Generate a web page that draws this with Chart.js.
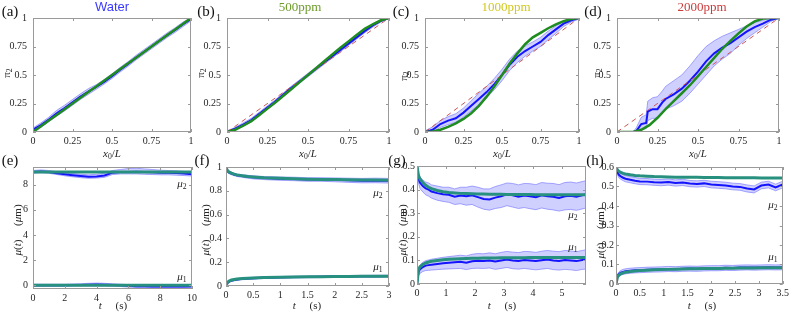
<!DOCTYPE html>
<html>
<head>
<meta charset="utf-8">
<script src="https://cdn.jsdelivr.net/npm/chart.js@4.4.1/dist/chart.umd.min.js"></script>
<style>
  html, body { margin: 0; padding: 0; background: #fff; }
  #wrap { position: relative; width: 789px; height: 315px; overflow: hidden; background: #fff; }
  #wrap canvas { position: absolute; }
  .lbl { position: absolute; transform: translate(-50%, -50%); white-space: pre; font-family: 'Liberation Serif', serif; color: #262626; line-height: 1; }
  .rot { transform: translate(-50%, -50%) rotate(-90deg); }
  .pl { font-size: 15px; color: #111; }
  .ttl { font-size: 13px; }
  .ax { font-size: 11px; }
  .mu { font-size: 11px; }
  sub { font-size: 70%; vertical-align: -0.3em; line-height: 0; }
</style>
</head>
<body>
<div id="wrap">
  <canvas id="pa"></canvas><canvas id="pb"></canvas><canvas id="pc"></canvas><canvas id="pd"></canvas>
  <canvas id="pe"></canvas><canvas id="pf"></canvas><canvas id="pg"></canvas><canvas id="ph"></canvas>

  <!-- panel letters -->
  <div class="lbl pl" style="left:10px;top:11px">(a)</div>
  <div class="lbl pl" style="left:206px;top:11px">(b)</div>
  <div class="lbl pl" style="left:401px;top:11px">(c)</div>
  <div class="lbl pl" style="left:593px;top:11px">(d)</div>
  <div class="lbl pl" style="left:10px;top:160px">(e)</div>
  <div class="lbl pl" style="left:202px;top:160px">(f)</div>
  <div class="lbl pl" style="left:397px;top:160px">(g)</div>
  <div class="lbl pl" style="left:595px;top:160px">(h)</div>

  <!-- column titles -->
  <div class="lbl ttl" style="left:112px;top:6px;color:#3a3aff;font-family:'Liberation Sans',sans-serif">Water</div>
  <div class="lbl ttl" style="left:300px;top:6px;color:#6d9b2a">500ppm</div>
  <div class="lbl ttl" style="left:506px;top:6px;color:#d2c81e">1000ppm</div>
  <div class="lbl ttl" style="left:702px;top:6px;color:#cc3c3c">2000ppm</div>

  <!-- axis titles, top row -->
  <div class="lbl ax" style="left:112px;top:153px"><i>x</i><sub>0</sub>/<i>L</i></div>
  <div class="lbl ax" style="left:308px;top:153px"><i>x</i><sub>0</sub>/<i>L</i></div>
  <div class="lbl ax" style="left:502px;top:153px"><i>x</i><sub>0</sub>/<i>L</i></div>
  <div class="lbl ax" style="left:698px;top:153px"><i>x</i><sub>0</sub>/<i>L</i></div>
  <div class="lbl ax rot" style="left:6px;top:73px">π<sub>2</sub></div>
  <div class="lbl ax rot" style="left:200px;top:73px">π<sub>2</sub></div>
  <div class="lbl ax rot" style="left:403px;top:76px">π<sub>2</sub></div>
  <div class="lbl ax rot" style="left:596px;top:73px">π<sub>2</sub></div>

  <!-- axis titles, bottom row -->
  <div class="lbl ax" style="left:113px;top:305px"><i>t</i>     (s)</div>
  <div class="lbl ax" style="left:307px;top:305px"><i>t</i>     (s)</div>
  <div class="lbl ax" style="left:502px;top:305px"><i>t</i>     (s)</div>
  <div class="lbl ax" style="left:702px;top:305px"><i>t</i>     (s)</div>
  <div class="lbl ax rot" style="left:17px;top:230px"><i>μ</i>(<i>t</i>)     (<i>μ</i>m)</div>
  <div class="lbl ax rot" style="left:205px;top:230px"><i>μ</i>(<i>t</i>)     (<i>μ</i>m)</div>
  <div class="lbl ax rot" style="left:402px;top:230px"><i>μ</i>(<i>t</i>)     (<i>μ</i>m)</div>
  <div class="lbl ax rot" style="left:600px;top:233px"><i>μ</i>(<i>t</i>)     (<i>μ</i>m)</div>

  <!-- curve labels -->
  <div class="lbl mu" style="left:182px;top:183px"><i>μ</i><sub>2</sub></div>
  <div class="lbl mu" style="left:182px;top:276px"><i>μ</i><sub>1</sub></div>
  <div class="lbl mu" style="left:378px;top:192px"><i>μ</i><sub>2</sub></div>
  <div class="lbl mu" style="left:378px;top:266px"><i>μ</i><sub>1</sub></div>
  <div class="lbl mu" style="left:573px;top:214px"><i>μ</i><sub>2</sub></div>
  <div class="lbl mu" style="left:573px;top:246px"><i>μ</i><sub>1</sub></div>
  <div class="lbl mu" style="left:773px;top:204px"><i>μ</i><sub>2</sub></div>
  <div class="lbl mu" style="left:773px;top:256px"><i>μ</i><sub>1</sub></div>
</div>

<script>
// ---- tick labels ----
const unitTicks = [0, 0.25, 0.5, 0.75, 1];
const eTicksX = [0, 2, 4, 6, 8, 10];
const eTicksY = [0, 2, 4, 6, 8];
const fTicksX = [0, 0.5, 1, 1.5, 2, 2.5, 3];
const fTicksY = [0, 0.2, 0.4, 0.6, 0.8, 1];
const gTicksX = [0, 1, 2, 3, 4, 5];
const gTicksY = [0, 0.1, 0.2, 0.3, 0.4, 0.5];
const hTicksX = [0, 0.5, 1, 1.5, 2, 2.5, 3, 3.5];
const hTicksY = [0, 0.1, 0.2, 0.3, 0.4, 0.5, 0.6];

// ---- data: top row (pi_2 vs x0/L) ----
const xGrid = [0, 0.05, 0.1, 0.15, 0.2, 0.25, 0.3, 0.35, 0.4, 0.45, 0.5, 0.55, 0.6, 0.65, 0.7, 0.75, 0.8, 0.85, 0.9, 0.95, 1];
const refX = [0, 1];
const refY = [0, 1];

const aModel = [0, 0.05, 0.1, 0.15, 0.2, 0.25, 0.3, 0.35, 0.4, 0.45, 0.5, 0.55, 0.6, 0.65, 0.7, 0.75, 0.8, 0.85, 0.9, 0.95, 1];
const aBlue = [0.02, 0.06, 0.11, 0.165, 0.21, 0.26, 0.31, 0.355, 0.395, 0.44, 0.49, 0.545, 0.595, 0.65, 0.7, 0.75, 0.8, 0.85, 0.895, 0.945, 0.99];
const aLow = [0, 0.04, 0.09, 0.14, 0.185, 0.235, 0.285, 0.33, 0.375, 0.42, 0.47, 0.525, 0.575, 0.63, 0.68, 0.73, 0.78, 0.83, 0.875, 0.925, 0.975];
const aHigh = [0.035, 0.08, 0.13, 0.19, 0.235, 0.285, 0.335, 0.38, 0.415, 0.46, 0.51, 0.565, 0.615, 0.67, 0.72, 0.77, 0.82, 0.87, 0.915, 0.965, 1];

const bModel = [0, 0.02, 0.055, 0.095, 0.15, 0.205, 0.26, 0.32, 0.38, 0.44, 0.5, 0.56, 0.62, 0.68, 0.74, 0.795, 0.85, 0.905, 0.945, 0.98, 1];
const bBlue = [0, 0.03, 0.065, 0.105, 0.16, 0.215, 0.27, 0.33, 0.39, 0.445, 0.5, 0.555, 0.61, 0.665, 0.72, 0.775, 0.83, 0.885, 0.935, 0.975, 1];
const bLow = [0, 0.02, 0.05, 0.09, 0.145, 0.2, 0.255, 0.315, 0.375, 0.43, 0.485, 0.54, 0.595, 0.65, 0.705, 0.76, 0.815, 0.87, 0.92, 0.965, 0.995];
const bHigh = [0.01, 0.04, 0.08, 0.12, 0.175, 0.23, 0.285, 0.345, 0.405, 0.46, 0.515, 0.57, 0.625, 0.68, 0.735, 0.79, 0.845, 0.9, 0.95, 0.985, 1];

const cModel = [0, 0.005, 0.02, 0.045, 0.075, 0.115, 0.165, 0.23, 0.31, 0.4, 0.5, 0.6, 0.69, 0.77, 0.83, 0.87, 0.91, 0.945, 0.972, 0.992, 1];
const cBlue = [0, 0.02, 0.07, 0.1, 0.12, 0.17, 0.23, 0.29, 0.35, 0.42, 0.5, 0.59, 0.66, 0.71, 0.75, 0.79, 0.85, 0.9, 0.95, 0.98, 1];
const cLow = [0, 0, 0.04, 0.065, 0.085, 0.13, 0.185, 0.24, 0.3, 0.37, 0.45, 0.54, 0.61, 0.665, 0.71, 0.75, 0.81, 0.865, 0.925, 0.965, 0.99];
const cHigh = [0.01, 0.045, 0.1, 0.135, 0.16, 0.21, 0.275, 0.34, 0.4, 0.47, 0.55, 0.64, 0.71, 0.755, 0.79, 0.83, 0.885, 0.93, 0.97, 0.99, 1];

const dModel = [0, 0, 0, 0.02, 0.06, 0.125, 0.2, 0.27, 0.34, 0.41, 0.49, 0.57, 0.65, 0.73, 0.8, 0.865, 0.925, 0.97, 0.995, 1, 1];
const dX = [0, 0.1, 0.12, 0.15, 0.18, 0.19, 0.22, 0.25, 0.28, 0.3, 0.35, 0.4, 0.45, 0.5, 0.55, 0.6, 0.65, 0.7, 0.75, 0.8, 0.85, 0.9, 0.95, 1];
const dBlue = [0, 0, 0.01, 0.07, 0.08, 0.18, 0.2, 0.2, 0.26, 0.29, 0.33, 0.38, 0.45, 0.53, 0.62, 0.69, 0.74, 0.78, 0.83, 0.88, 0.92, 0.95, 0.985, 1];
const dLow = [0, 0, 0, 0.02, 0.03, 0.1, 0.12, 0.12, 0.17, 0.2, 0.23, 0.27, 0.34, 0.42, 0.5, 0.58, 0.64, 0.69, 0.76, 0.82, 0.87, 0.92, 0.97, 1];
const dHigh = [0, 0, 0.04, 0.13, 0.15, 0.27, 0.3, 0.31, 0.36, 0.4, 0.45, 0.5, 0.58, 0.67, 0.75, 0.8, 0.84, 0.87, 0.9, 0.93, 0.96, 0.98, 1, 1];

// ---- data: bottom row (mu vs t) ----
const eT = [0, 0.5, 1, 1.5, 2, 2.5, 3, 3.5, 4, 4.5, 5, 5.5, 6, 6.5, 7, 7.5, 8, 8.5, 9, 9.5, 10];
const eModelT = [0, 10];
const eModel2 = [9, 9];
const eModel1 = [0, 0];
const eMu2 = [9.0, 9.05, 9.0, 8.9, 8.82, 8.75, 8.68, 8.62, 8.65, 8.72, 8.95, 9.0, 9.0, 9.02, 9.0, 8.98, 8.95, 8.95, 8.92, 8.88, 8.82];
const eMu2Hi = [9.12, 9.17, 9.12, 9.03, 8.95, 8.88, 8.82, 8.78, 8.82, 8.9, 9.12, 9.2, 9.28, 9.3, 9.25, 9.2, 9.15, 9.12, 9.1, 9.05, 9.0];
const eMu2Lo = [8.9, 8.95, 8.9, 8.8, 8.7, 8.62, 8.55, 8.5, 8.52, 8.58, 8.8, 8.85, 8.85, 8.85, 8.82, 8.8, 8.78, 8.78, 8.75, 8.72, 8.68];
const eMu1 = [0, 0, 0, 0, 0, 0.01, 0.02, 0.04, 0.05, 0.04, 0.02, 0, -0.05, -0.08, -0.09, -0.1, -0.1, -0.09, -0.1, -0.1, -0.08];
const eMu1Hi = [0.08, 0.08, 0.08, 0.08, 0.08, 0.1, 0.12, 0.15, 0.17, 0.15, 0.12, 0.08, 0.05, 0.02, 0, 0, 0, 0.01, 0, 0, 0.02];
const eMu1Lo = [-0.08, -0.08, -0.08, -0.08, -0.08, -0.07, -0.06, -0.05, -0.05, -0.06, -0.08, -0.1, -0.15, -0.18, -0.2, -0.2, -0.2, -0.19, -0.2, -0.2, -0.18];

const fT = [0, 0.02, 0.05, 0.1, 0.15, 0.2, 0.3, 0.4, 0.5, 0.7, 1, 1.25, 1.5, 1.75, 2, 2.25, 2.5, 2.75, 3];
const fModel2 = [1.0, 0.975, 0.96, 0.948, 0.94, 0.934, 0.926, 0.92, 0.916, 0.91, 0.905, 0.901, 0.898, 0.896, 0.894, 0.892, 0.891, 0.89, 0.889];
const fModel1 = [0, 0.025, 0.04, 0.05, 0.055, 0.058, 0.063, 0.066, 0.068, 0.071, 0.074, 0.076, 0.077, 0.078, 0.079, 0.08, 0.081, 0.082, 0.082];
const fMu2 = [1.0, 0.97, 0.955, 0.945, 0.937, 0.93, 0.924, 0.918, 0.913, 0.907, 0.902, 0.9, 0.895, 0.895, 0.892, 0.888, 0.885, 0.887, 0.884];
const fMu2Hi = [1.0, 0.98, 0.965, 0.955, 0.947, 0.941, 0.935, 0.93, 0.926, 0.92, 0.916, 0.914, 0.91, 0.91, 0.908, 0.906, 0.904, 0.906, 0.904];
const fMu2Lo = [1.0, 0.96, 0.945, 0.935, 0.927, 0.92, 0.913, 0.906, 0.9, 0.894, 0.888, 0.885, 0.88, 0.88, 0.876, 0.871, 0.867, 0.868, 0.865];
const fMu1 = [0, 0.02, 0.035, 0.045, 0.05, 0.054, 0.06, 0.063, 0.066, 0.07, 0.073, 0.075, 0.076, 0.078, 0.079, 0.081, 0.082, 0.082, 0.083];
const fMu1Hi = [0, 0.027, 0.042, 0.052, 0.057, 0.061, 0.067, 0.07, 0.073, 0.077, 0.08, 0.082, 0.083, 0.085, 0.086, 0.088, 0.089, 0.09, 0.091];
const fMu1Lo = [0, 0.013, 0.028, 0.038, 0.043, 0.047, 0.053, 0.056, 0.059, 0.063, 0.066, 0.068, 0.069, 0.071, 0.072, 0.074, 0.075, 0.075, 0.076];

const gT = [0, 0.05, 0.1, 0.2, 0.3, 0.4, 0.5, 0.7, 0.9, 1.1, 1.3, 1.5, 1.7, 1.9, 2.1, 2.3, 2.5, 2.7, 2.9, 3.1, 3.3, 3.5, 3.7, 3.9, 4.1, 4.3, 4.5, 4.7, 4.9, 5.1, 5.3, 5.5, 5.7, 5.83];
const gModel2 = [0.5, 0.46, 0.445, 0.43, 0.418, 0.41, 0.404, 0.396, 0.391, 0.388, 0.386, 0.384, 0.383, 0.382, 0.381, 0.381, 0.38, 0.38, 0.38, 0.379, 0.379, 0.379, 0.379, 0.379, 0.378, 0.378, 0.378, 0.378, 0.378, 0.378, 0.378, 0.378, 0.378, 0.378];
const gModel1 = [0, 0.06, 0.072, 0.083, 0.089, 0.093, 0.096, 0.1, 0.103, 0.105, 0.106, 0.107, 0.108, 0.109, 0.109, 0.11, 0.11, 0.11, 0.111, 0.111, 0.111, 0.111, 0.111, 0.112, 0.112, 0.112, 0.112, 0.112, 0.112, 0.112, 0.112, 0.112, 0.112, 0.112];
const gMu2 = [0.5, 0.45, 0.43, 0.415, 0.405, 0.4, 0.392, 0.385, 0.38, 0.378, 0.37, 0.375, 0.372, 0.376, 0.368, 0.36, 0.358, 0.366, 0.372, 0.38, 0.376, 0.37, 0.375, 0.372, 0.368, 0.376, 0.372, 0.37, 0.365, 0.372, 0.374, 0.37, 0.376, 0.38];
const gMu2Hi = [0.5, 0.47, 0.455, 0.44, 0.432, 0.428, 0.42, 0.415, 0.41, 0.41, 0.403, 0.41, 0.41, 0.415, 0.41, 0.403, 0.403, 0.413, 0.42, 0.428, 0.426, 0.42, 0.426, 0.425, 0.421, 0.43, 0.427, 0.426, 0.421, 0.43, 0.432, 0.428, 0.434, 0.438];
const gMu2Lo = [0.5, 0.43, 0.405, 0.39, 0.378, 0.372, 0.364, 0.355, 0.35, 0.346, 0.337, 0.34, 0.334, 0.337, 0.326, 0.317, 0.313, 0.32, 0.324, 0.332, 0.326, 0.32, 0.324, 0.319, 0.315, 0.322, 0.317, 0.314, 0.309, 0.314, 0.316, 0.312, 0.318, 0.322];
const gMu1 = [0, 0.05, 0.062, 0.072, 0.078, 0.08, 0.082, 0.085, 0.088, 0.09, 0.092, 0.094, 0.09, 0.096, 0.098, 0.097, 0.1, 0.095, 0.1, 0.104, 0.1, 0.098, 0.102, 0.1, 0.097, 0.101, 0.104, 0.1, 0.098, 0.102, 0.1, 0.097, 0.102, 0.104];
const gMu1Hi = [0, 0.065, 0.08, 0.092, 0.099, 0.102, 0.105, 0.109, 0.113, 0.116, 0.119, 0.122, 0.119, 0.126, 0.129, 0.128, 0.132, 0.128, 0.134, 0.138, 0.135, 0.133, 0.138, 0.137, 0.134, 0.139, 0.142, 0.139, 0.137, 0.142, 0.14, 0.137, 0.142, 0.145];
const gMu1Lo = [0, 0.035, 0.045, 0.053, 0.057, 0.058, 0.059, 0.061, 0.063, 0.064, 0.065, 0.066, 0.061, 0.066, 0.067, 0.066, 0.068, 0.062, 0.066, 0.07, 0.065, 0.063, 0.066, 0.063, 0.06, 0.063, 0.066, 0.061, 0.059, 0.062, 0.06, 0.057, 0.062, 0.063];

const hT = [0, 0.03, 0.06, 0.1, 0.15, 0.2, 0.3, 0.4, 0.5, 0.65, 0.8, 0.95, 1.1, 1.25, 1.4, 1.55, 1.7, 1.85, 2, 2.15, 2.3, 2.45, 2.6, 2.75, 2.9, 3.05, 3.2, 3.35, 3.5];
const hModel2 = [0.6, 0.585, 0.578, 0.572, 0.567, 0.564, 0.56, 0.557, 0.555, 0.553, 0.551, 0.55, 0.549, 0.548, 0.548, 0.547, 0.547, 0.546, 0.546, 0.546, 0.545, 0.545, 0.545, 0.545, 0.545, 0.544, 0.544, 0.544, 0.544];
const hModel1 = [0, 0.035, 0.045, 0.052, 0.057, 0.06, 0.064, 0.067, 0.069, 0.071, 0.073, 0.074, 0.075, 0.076, 0.077, 0.078, 0.078, 0.079, 0.08, 0.08, 0.081, 0.081, 0.082, 0.082, 0.082, 0.083, 0.083, 0.083, 0.083];
const hMu2 = [0.6, 0.575, 0.56, 0.552, 0.545, 0.54, 0.535, 0.53, 0.526, 0.525, 0.522, 0.52, 0.523, 0.518, 0.521, 0.515, 0.513, 0.516, 0.51, 0.508, 0.505, 0.5, 0.498, 0.49, 0.485, 0.505, 0.51, 0.495, 0.51];
const hMu2Hi = [0.6, 0.588, 0.574, 0.567, 0.56, 0.556, 0.551, 0.546, 0.542, 0.541, 0.538, 0.536, 0.539, 0.534, 0.537, 0.531, 0.529, 0.532, 0.527, 0.525, 0.522, 0.517, 0.515, 0.508, 0.503, 0.522, 0.527, 0.512, 0.527];
const hMu2Lo = [0.6, 0.56, 0.545, 0.537, 0.53, 0.524, 0.519, 0.514, 0.51, 0.509, 0.506, 0.504, 0.507, 0.502, 0.505, 0.499, 0.497, 0.5, 0.493, 0.491, 0.488, 0.483, 0.481, 0.472, 0.467, 0.488, 0.493, 0.478, 0.493];
const hMu1 = [0, 0.04, 0.05, 0.058, 0.062, 0.065, 0.068, 0.07, 0.071, 0.073, 0.074, 0.075, 0.077, 0.076, 0.078, 0.079, 0.078, 0.08, 0.081, 0.081, 0.083, 0.082, 0.084, 0.085, 0.084, 0.085, 0.086, 0.085, 0.086];
const hMu1Hi = [0, 0.05, 0.062, 0.07, 0.075, 0.078, 0.081, 0.083, 0.084, 0.086, 0.087, 0.088, 0.09, 0.089, 0.091, 0.092, 0.091, 0.093, 0.094, 0.094, 0.096, 0.095, 0.097, 0.098, 0.097, 0.098, 0.099, 0.098, 0.099];
const hMu1Lo = [0, 0.03, 0.038, 0.046, 0.049, 0.052, 0.055, 0.057, 0.058, 0.06, 0.061, 0.062, 0.064, 0.063, 0.065, 0.066, 0.065, 0.067, 0.068, 0.068, 0.07, 0.069, 0.071, 0.072, 0.071, 0.072, 0.073, 0.072, 0.073];

// ---- styles ----
const BLUE = '#1414ff';
const BAND_FILL = 'rgba(110, 110, 255, 0.32)';
const BAND_EDGE = 'rgba(110, 110, 255, 0.6)';
const GREEN = '#1f8c1f';
const TEAL = '#27907f';
const RED = '#cc5555';
const FRAME = '#9a9a9a';
const TICK_FONT = { family: "'Liberation Serif', serif", size: 10 };

function pts(xs, ys) {
    return xs.map(function(x, i) { return { x: x, y: ys[i] }; });
}

function line(xs, ys, color, width, order, dash) {
    return {
        data: pts(xs, ys), borderColor: color, borderWidth: width, borderDash: dash || [],
        pointRadius: 0, fill: false, tension: 0, order: order
    };
}

// band = two datasets, the upper one fills down to the lower one
function band(xs, lo, hi) {
    return [
        { data: pts(xs, lo), borderColor: BAND_EDGE, borderWidth: 1, pointRadius: 0, fill: false, order: 6 },
        { data: pts(xs, hi), borderColor: BAND_EDGE, borderWidth: 1, pointRadius: 0, fill: '-1', backgroundColor: BAND_FILL, order: 5 }
    ];
}

// MATLAB-like box with inward ticks on all four sides
const boxPlugin = {
    id: 'box',
    afterDraw: function(chart) {
        const a = chart.chartArea, ctx = chart.ctx;
        const sx = chart.scales.x, sy = chart.scales.y;
        ctx.save();
        ctx.strokeStyle = FRAME;
        ctx.lineWidth = 1;
        ctx.strokeRect(Math.round(a.left) + 0.5, Math.round(a.top) + 0.5, Math.round(a.right - a.left) - 1, Math.round(a.bottom - a.top) - 1);
        ctx.beginPath();
        sx.ticks.forEach(function(t) {
            const p = Math.round(sx.getPixelForValue(t.value)) + 0.5;
            ctx.moveTo(p, a.bottom); ctx.lineTo(p, a.bottom - 3);
            ctx.moveTo(p, a.top); ctx.lineTo(p, a.top + 3);
        });
        sy.ticks.forEach(function(t) {
            const p = Math.round(sy.getPixelForValue(t.value)) + 0.5;
            ctx.moveTo(a.left, p); ctx.lineTo(a.left + 3, p);
            ctx.moveTo(a.right, p); ctx.lineTo(a.right - 3, p);
        });
        ctx.stroke();
        ctx.restore();
    }
};

const YW = 30, XH = 18, PT = 8, PR = 8;

function fmt(v) {
    return String(parseFloat(v.toFixed(3)));
}

function makePanel(id, g, xr, yr, xTicks, yTicks, yPad, datasets) {
    const canvas = document.getElementById(id);
    canvas.width = YW + (g.right - g.left) + PR;
    canvas.height = PT + (g.bottom - g.top) + XH;
    canvas.style.left = (g.left - YW) + 'px';
    canvas.style.top = (g.top - PT) + 'px';

    return new Chart(canvas.getContext('2d'), {
        type: 'line',
        data: { datasets: datasets },
        options: {
            responsive: false,
            animation: false,
            events: [],
            layout: { padding: { top: PT, right: PR, left: 0, bottom: 0 } },
            plugins: { legend: { display: false }, tooltip: { enabled: false } },
            scales: {
                x: {
                    type: 'linear', min: xr[0], max: xr[1],
                    grid: { display: false, drawTicks: false },
                    border: { display: false },
                    ticks: { autoSkip: false, maxRotation: 0, padding: 3, font: TICK_FONT, color: '#262626', callback: fmt },
                    afterBuildTicks: function(s) { s.ticks = xTicks.map(function(v) { return { value: v }; }); },
                    afterFit: function(s) { s.height = XH; }
                },
                y: {
                    type: 'linear', min: yr[0], max: yr[1],
                    grid: { display: false, drawTicks: false },
                    border: { display: false },
                    ticks: { autoSkip: false, padding: yPad, font: TICK_FONT, color: '#262626', callback: fmt },
                    afterBuildTicks: function(s) { s.ticks = yTicks.map(function(v) { return { value: v }; }); },
                    afterFit: function(s) { s.width = YW; }
                }
            }
        },
        plugins: [boxPlugin]
    });
}

function topSets(bx, blue, lo, hi, model) {
    return band(bx, lo, hi).concat([
        line(bx, blue, BLUE, 2, 2),
        line(refX, refY, RED, 1, 1, [5, 4]),
        line(xGrid, model, GREEN, 2.5, 0)
    ]);
}

function bottomSets(t, mu2, lo2, hi2, mu1, lo1, hi1, mt, m2, m1) {
    return band(t, lo2, hi2).concat(band(t, lo1, hi1)).concat([
        line(t, mu2, BLUE, 2, 2),
        line(t, mu1, BLUE, 2, 2),
        line(mt, m2, TEAL, 3, 0),
        line(mt, m1, TEAL, 3, 0)
    ]);
}

makePanel('pa', { left: 33, right: 191, top: 14, bottom: 132 }, [0, 1], [0, 1], unitTicks, unitTicks, 6, topSets(xGrid, aBlue, aLow, aHigh, aModel));
makePanel('pb', { left: 227, right: 389, top: 14, bottom: 132 }, [0, 1], [0, 1], unitTicks, unitTicks, 6, topSets(xGrid, bBlue, bLow, bHigh, bModel));
makePanel('pc', { left: 425, right: 579, top: 14, bottom: 132 }, [0, 1], [0, 1], unitTicks, unitTicks, 6, topSets(xGrid, cBlue, cLow, cHigh, cModel));
makePanel('pd', { left: 617, right: 779, top: 14, bottom: 132 }, [0, 1], [0, 1], unitTicks, unitTicks, 6, topSets(dX, dBlue, dLow, dHigh, dModel));

makePanel('pe', { left: 33, right: 192, top: 164, bottom: 289 }, [0, 10], [-0.3, 9.4], eTicksX, eTicksY, 5,
    bottomSets(eT, eMu2, eMu2Lo, eMu2Hi, eMu1, eMu1Lo, eMu1Hi, eModelT, eModel2, eModel1));
makePanel('pf', { left: 226, right: 389, top: 165, bottom: 286 }, [0, 3], [0, 1], fTicksX, fTicksY, 4,
    bottomSets(fT, fMu2, fMu2Lo, fMu2Hi, fMu1, fMu1Lo, fMu1Hi, fT, fModel2, fModel1));
makePanel('pg', { left: 417, right: 586, top: 166, bottom: 284 }, [0, 5.83], [0, 0.5], gTicksX, gTicksY, 2,
    bottomSets(gT, gMu2, gMu2Lo, gMu2Hi, gMu1, gMu1Lo, gMu1Hi, gT, gModel2, gModel1));
makePanel('ph', { left: 616, right: 784, top: 167, bottom: 284 }, [0, 3.5], [0, 0.6], hTicksX, hTicksY, 2,
    bottomSets(hT, hMu2, hMu2Lo, hMu2Hi, hMu1, hMu1Lo, hMu1Hi, hT, hModel2, hModel1));
</script>
</body>
</html>
